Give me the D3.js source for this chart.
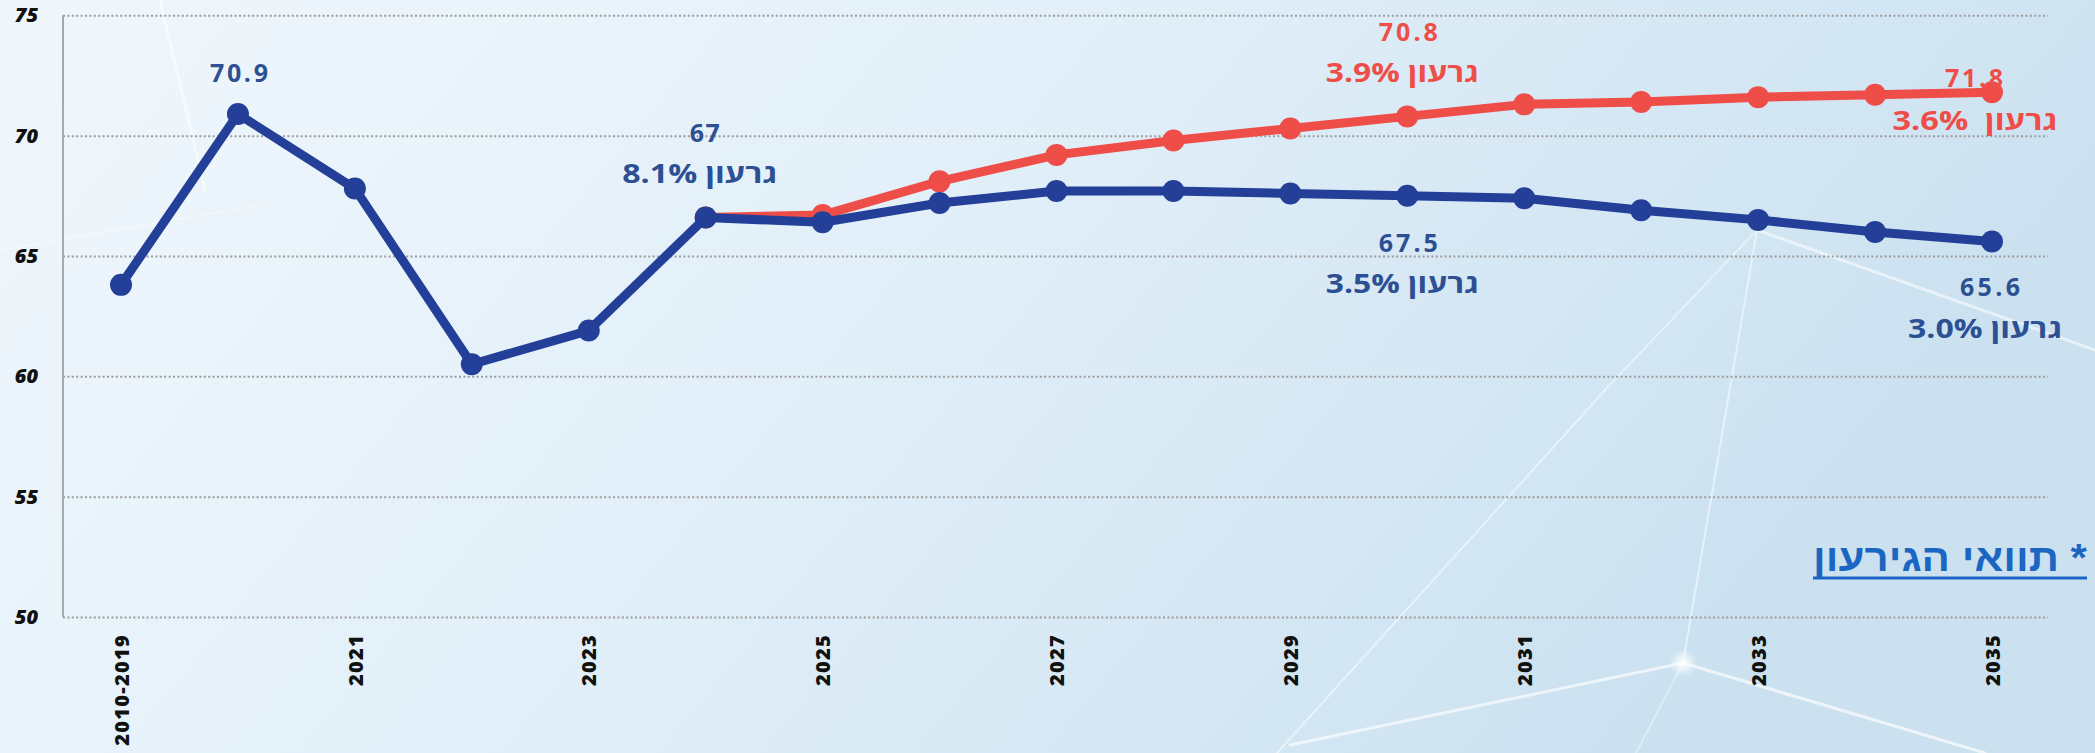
<!DOCTYPE html>
<html><head><meta charset="utf-8">
<script src="https://cdn.jsdelivr.net/npm/d3@7"></script>
<style>html,body{margin:0;padding:0;overflow:hidden;background:#e6f1f9}svg{display:block}</style>
</head><body>
<script>
// ---------- DATA ----------
const categories = ["2010-2019","2020","2021","2022","2023","2024","2025","2026","2027","2028","2029","2030","2031","2032","2033","2034","2035"];
const tickLabels = ["2010-2019","2021","2023","2025","2027","2029","2031","2033","2035"];
const yTicks = [50,55,60,65,70,75];
const blueValues = [63.8,70.9,67.8,60.5,61.9,66.6,66.4,67.2,67.7,67.7,67.6,67.5,67.4,66.9,66.5,66.0,65.6];
const redCategories = ["2024","2025","2026","2027","2028","2029","2030","2031","2032","2033","2034","2035"];
const redValues = [66.6,66.7,68.1,69.2,69.8,70.3,70.8,71.3,71.4,71.6,71.7,71.8];
const deficitWord = "גרעון";
const blueLabels = [
  {cat:"2020", value:"70.9", deficit:null},
  {cat:"2024", value:"67", deficit:"8.1%"},
  {cat:"2030", value:"67.5", deficit:"3.5%"},
  {cat:"2035", value:"65.6", deficit:"3.0%"}
];
const redLabels = [
  {cat:"2030", value:"70.8", deficit:"3.9%"},
  {cat:"2035", value:"71.8", deficit:"3.6%"}
];
const noteText = "* תוואי הגירעון";

// ---------- STYLE / LAYOUT ----------
const W = 2095, H = 753;
const BLUE = "#233f98", BLUE_TXT = "#2d4f93", RED = "#ef4d48", NOTE = "#1a66c2";
const NUMFONT = "'Open Sans', 'DejaVu Sans', sans-serif";
const layout = {
  "b2020": {dxV:1,  dyV:-32, wV:58},
  "b2024": {dxV:-1, dyV:-75, wV:30, dxD:-6, dyD:-34, wD:155},
  "b2030": {dxV:1,  dyV:56,  wV:59, dxD:-5, dyD:97,  wD:153},
  "b2035": {dxV:-2, dyV:54,  wV:60, dxD:-7, dyD:96,  wD:154},
  "r2030": {dxV:1,  dyV:-75, wV:59, dxD:-5, dyD:-34, wD:153},
  "r2035": {dxV:-18,dyV:-5,  wV:58, dxD:-17,dyD:38,  wD:165, gap:"  "}
};

const svg = d3.select("body").append("svg").attr("width", W).attr("height", H);
const defs = svg.append("defs");
const bg = defs.append("linearGradient").attr("id","bg").attr("x1","0").attr("y1","0").attr("x2","1").attr("y2","0.3");
bg.append("stop").attr("offset","0").attr("stop-color","#f0f7fc");
bg.append("stop").attr("offset","0.45").attr("stop-color","#e3f0f9");
bg.append("stop").attr("offset","1").attr("stop-color","#cbe1f0");
svg.append("rect").attr("width",W).attr("height",H).attr("fill","url(#bg)");
const glow = defs.append("radialGradient").attr("id","glow");
glow.append("stop").attr("offset","0").attr("stop-color","#fff").attr("stop-opacity",1);
glow.append("stop").attr("offset","1").attr("stop-color","#fff").attr("stop-opacity",0);

// decorative light lines
const deco = svg.append("g").attr("stroke","#ffffff").attr("fill","none").attr("stroke-linecap","round");
[[160,0,205,190,3,0.5],[0,250,260,205,2,0.3],[1605,390,1277,753,2,0.5],[1757,230,1683,663,2,0.5],[1683,663,1636,753,1.5,0.45],
 [1683,663,1290,745,3,0.65],[1683,663,1985,753,3,0.65],[1757,230,2095,350,3,0.55],[1757,230,1605,390,2,0.45]]
 .forEach(l=>deco.append("line").attr("x1",l[0]).attr("y1",l[1]).attr("x2",l[2]).attr("y2",l[3]).attr("stroke-width",l[4]).attr("stroke-opacity",l[5]));
svg.append("circle").attr("cx",1683).attr("cy",663).attr("r",14).attr("fill","url(#glow)");

// ---------- SCALES ----------
const x = d3.scalePoint().domain(categories).range([121, 1992]);
const y = d3.scaleLinear().domain([50,75]).range([617, 15.3]);
const gridRight = 2048, axisX = 63;

// grid
const grid = svg.append("g").attr("transform",`translate(${axisX},0)`)
  .call(d3.axisLeft(y).tickValues(yTicks).tickSize(-(gridRight-axisX)).tickFormat(""));
grid.select(".domain").remove();
grid.selectAll("line").attr("stroke","#9c9c9c").attr("stroke-width",2).attr("stroke-dasharray","2,2.4");

// y axis labels
const yAx = svg.append("g").attr("transform",`translate(${axisX},0)`)
  .call(d3.axisLeft(y).tickValues(yTicks).tickSize(0).tickPadding(25));
yAx.select(".domain").remove();
yAx.selectAll("text").attr("fill","#111").attr("font-family",NUMFONT)
  .attr("font-weight","800").attr("font-style","italic").attr("font-size",20);
svg.append("line").attr("x1",axisX).attr("x2",axisX).attr("y1",y(75)).attr("y2",y(50))
  .attr("stroke","#a9a9a9").attr("stroke-width",2);

// x axis labels
const xAx = svg.append("g").attr("transform",`translate(0,${y(50)})`)
  .call(d3.axisBottom(x).tickValues(tickLabels).tickSize(0));
xAx.select(".domain").remove();
xAx.selectAll("text").attr("transform","rotate(-90)").attr("text-anchor","end")
  .attr("x",-17).attr("y",0).attr("dy","0.36em")
  .attr("fill","#111").attr("font-family",NUMFONT)
  .attr("font-weight","800").attr("font-size",20).attr("letter-spacing","1.3");

// ---------- LINES ----------
const blueData = categories.map((c,i)=>({cat:c, v:blueValues[i]}));
const redData = redCategories.map((c,i)=>({cat:c, v:redValues[i]}));
const line = d3.line().x(d=>x(d.cat)).y(d=>y(d.v));
function drawSeries(data, color){
  svg.append("path").datum(data).attr("d",line).attr("fill","none").attr("stroke",color)
    .attr("stroke-width",9).attr("stroke-linejoin","round");
  svg.append("g").selectAll("circle").data(data).join("circle")
    .attr("cx",d=>x(d.cat)).attr("cy",d=>y(d.v)).attr("r",11).attr("fill",color);
}
drawSeries(redData, RED);
drawSeries(blueData, BLUE);

// ---------- LABELS ----------
function drawLabels(labels, values, cats, color, key){
  labels.forEach(l=>{
    const L = layout[key+l.cat];
    const v = values[cats.indexOf(l.cat)];
    const cx = x(l.cat), cy = y(v);
    svg.append("text").attr("x",cx+L.dxV).attr("y",cy+L.dyV).attr("text-anchor","middle")
      .attr("fill",color).attr("font-family",NUMFONT).attr("font-weight","bold")
      .attr("font-size",25).attr("textLength",L.wV).attr("lengthAdjust","spacing").text(l.value);
    if(l.deficit){
      svg.append("text").attr("x",cx+L.dxD).attr("y",cy+L.dyD).attr("text-anchor","middle")
        .attr("direction","rtl").style("white-space","pre")
        .attr("fill",color).attr("font-family","'Open Sans', 'Liberation Sans', 'DejaVu Sans', sans-serif").attr("font-weight","bold")
        .attr("font-size",26).attr("textLength",L.wD).attr("lengthAdjust","spacingAndGlyphs")
        .text(deficitWord + (L.gap||" ") + l.deficit);
    }
  });
}
drawLabels(blueLabels, blueValues, categories, BLUE_TXT, "b");
drawLabels(redLabels, redValues, redCategories, RED, "r");

// ---------- NOTE ----------
svg.append("text").attr("x",2087).attr("y",571).attr("direction","rtl").attr("text-anchor","start")
  .attr("fill",NOTE).attr("font-family","'Liberation Sans Narrow', 'Liberation Sans', 'DejaVu Sans', sans-serif")
  .attr("font-weight","bold").attr("font-size",38).attr("textLength",274).attr("lengthAdjust","spacingAndGlyphs")
  .text(noteText);
svg.append("line").attr("x1",1813).attr("x2",2087).attr("y1",578).attr("y2",578).attr("stroke",NOTE).attr("stroke-width",3);
</script>
</body></html>
